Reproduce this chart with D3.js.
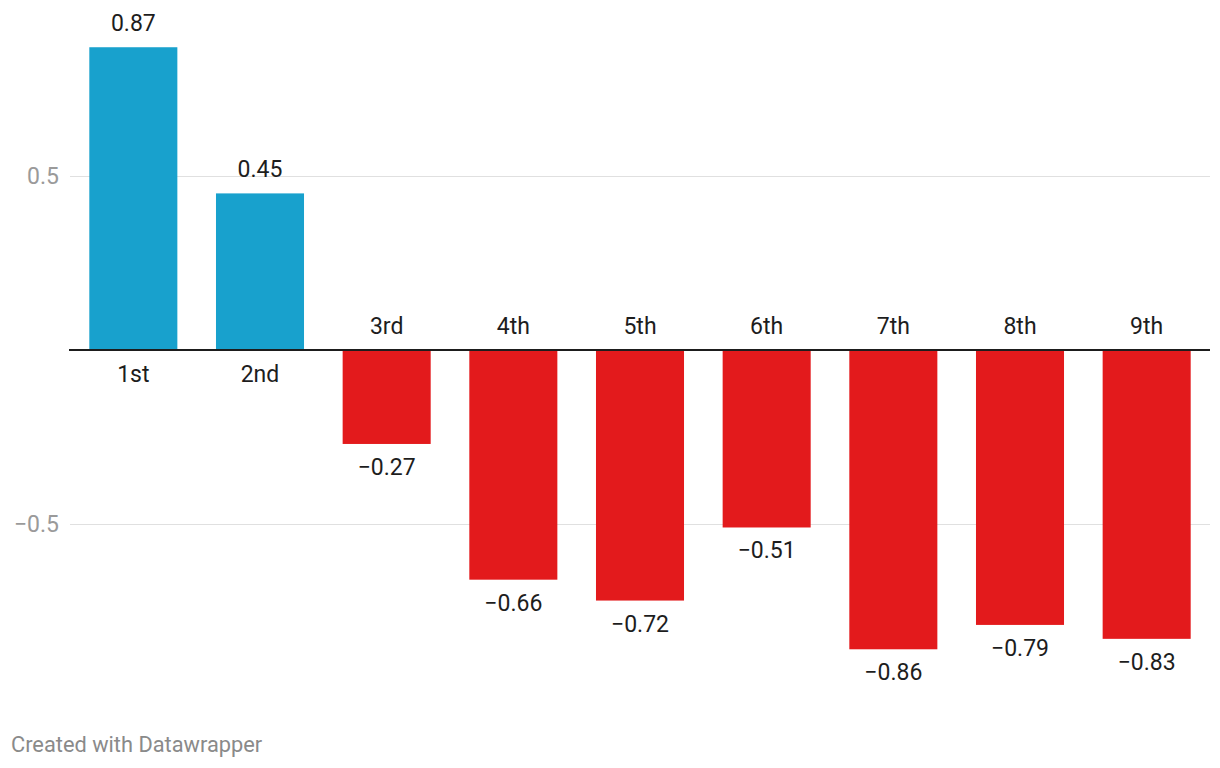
<!DOCTYPE html>
<html>
<head>
<meta charset="utf-8">
<script src="https://cdn.jsdelivr.net/npm/d3@7"></script>
<style>
  body { margin: 0; background: #fff; }
  svg { display: block; font-family: Roboto, sans-serif; }
</style>
</head>
<body>
<div id="chart-area"></div>
<script>
// categories and values
let categories = ['1st', '2nd', '3rd', '4th', '5th', '6th', '7th', '8th', '9th'];
let values = [0.87, 0.45, -0.27, -0.66, -0.72, -0.51, -0.86, -0.79, -0.83];
let yTicks = [-0.5, 0.5];

let width = 1220;
let height = 768;
let left = 70, right = 1210;

let fmt = (v) => d3.format('.2f')(v).replace('-', '\u2212');
let tickFmt = (v) => d3.format('.1f')(v).replace('-', '\u2212');

let chart = d3
  .select('#chart-area')
  .append('svg')
  .attr('width', width)
  .attr('height', height);

let x = d3
  .scaleBand()
  .domain(categories)
  .range([left, right])
  .paddingInner(0.305)
  .paddingOuter(0.1525);

let y = d3.scaleLinear().domain([-1, 1]).range([698, 2]);

//gridlines + tick labels
let grid = chart.append('g');
grid
  .selectAll('line')
  .data(yTicks)
  .enter()
  .append('line')
  .attr('x1', left)
  .attr('x2', right)
  .attr('y1', (d) => y(d) + 0.5)
  .attr('y2', (d) => y(d) + 0.5)
  .attr('stroke', '#e0e0e0')
  .attr('stroke-width', 1);
grid
  .selectAll('text')
  .data(yTicks)
  .enter()
  .append('text')
  .attr('x', 59)
  .attr('y', (d) => y(d) + 8)
  .attr('text-anchor', 'end')
  .attr('fill', '#9a9a9a')
  .style('font-size', '23px')
  .text(tickFmt);

//bars
let data = categories.map((c, i) => ({ cat: c, val: values[i] }));
chart
  .append('g')
  .selectAll('rect')
  .data(data)
  .enter()
  .append('rect')
  .attr('x', (d) => x(d.cat))
  .attr('width', x.bandwidth())
  .attr('y', (d) => Math.min(y(d.val), y(0)))
  .attr('height', (d) => Math.abs(y(d.val) - y(0)))
  .attr('fill', (d) => (d.val >= 0 ? '#18a1cd' : '#e31a1c'));

//zero line
chart
  .append('line')
  .attr('x1', left - 1)
  .attr('x2', right)
  .attr('y1', y(0))
  .attr('y2', y(0))
  .attr('stroke', '#1d1d1d')
  .attr('stroke-width', 2);

//value labels
chart
  .append('g')
  .selectAll('text')
  .data(data)
  .enter()
  .append('text')
  .attr('x', (d) => x(d.cat) + x.bandwidth() / 2)
  .attr('y', (d) => (d.val >= 0 ? y(d.val) - 16 : y(d.val) + 31))
  .attr('text-anchor', 'middle')
  .attr('fill', '#1d1d1d')
  .style('font-size', '23px')
  .text((d) => fmt(d.val));

//category labels
chart
  .append('g')
  .selectAll('text')
  .data(data)
  .enter()
  .append('text')
  .attr('x', (d) => x(d.cat) + x.bandwidth() / 2)
  .attr('y', (d) => (d.val >= 0 ? y(0) + 32 : y(0) - 16))
  .attr('text-anchor', 'middle')
  .attr('fill', '#1d1d1d')
  .style('font-size', '23px')
  .text((d) => d.cat);

//footer
chart
  .append('text')
  .attr('x', 11)
  .attr('y', 752)
  .attr('fill', '#8a8a8a')
  .style('font-size', '21.8px')
  .text('Created with Datawrapper');
</script>
</body>
</html>
